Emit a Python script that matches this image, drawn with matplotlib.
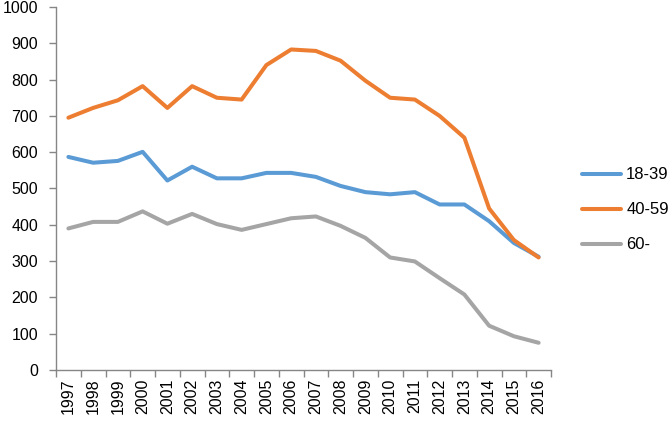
import matplotlib
matplotlib.use("Agg")
import matplotlib.pyplot as plt
import numpy as np

years = [str(y) for y in range(1997, 2017)]
s_18_39 = [587, 571, 576, 601, 522, 560, 528, 528, 543, 543, 532, 507, 490, 484, 490, 456, 456, 410, 350, 312]
s_40_59 = [695, 722, 743, 782, 722, 782, 750, 745, 840, 883, 879, 852, 797, 750, 745, 700, 640, 445, 358, 310]
s_60 = [390, 408, 408, 437, 403, 430, 402, 386, 402, 418, 423, 397, 364, 310, 299, 253, 208, 122, 93, 75]
labels = ["18-39", "40-59", "60-"]
colors = ["#5B9BD5", "#ED7D31", "#A5A5A5"]

plt.rcParams['font.family'] = ['Liberation Sans', 'DejaVu Sans']

fig = plt.figure(figsize=(6.69, 4.22), dpi=100)
ax = fig.add_axes([56/669, 52/422, (551-56)/669, (370-7)/422])

x = np.arange(len(years))
for vals, lab, c in zip([s_18_39, s_40_59, s_60], labels, colors):
    ax.plot(x, vals, color=c, lw=2.9, label=lab, solid_capstyle='round', solid_joinstyle='round')

ax.set_xlim(-0.5, len(years) - 0.5)
ax.set_ylim(0, 1000)
ax.set_yticks(range(0, 1001, 100))
ax.set_xticks(x)
ax.set_xticklabels(years, rotation=90)
ax.set_xticks(np.arange(-0.5, len(years), 1), minor=True)
ax.tick_params(axis='x', which='major', length=0, pad=6, labelsize=11.5)
ax.tick_params(axis='x', which='minor', length=5, color='#868686', width=1)
ax.tick_params(axis='y', length=5, color='#868686', width=1, labelsize=11.5, pad=8)

for s in ['top', 'right']:
    ax.spines[s].set_visible(False)
for s in ['left', 'bottom']:
    ax.spines[s].set_color('#868686')
    ax.spines[s].set_linewidth(1)

fig.legend(loc='center left', bbox_to_anchor=(582/669, 1 - 210/422), frameon=False,
           borderaxespad=0, borderpad=0,
           handlelength=2.35, labelspacing=1.2, fontsize=12, handletextpad=0.3)

fig.savefig("out.png", dpi=100)
